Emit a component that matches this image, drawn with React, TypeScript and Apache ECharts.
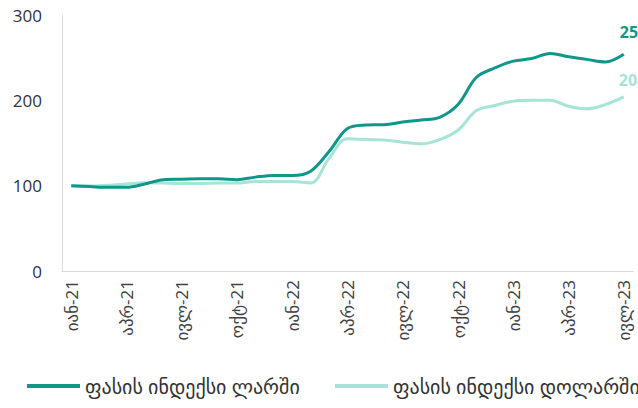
import React, { useEffect, useRef } from "react";
import * as echarts from "echarts";

const categories: string[] = [
  "იან-21", "თებ-21", "მარ-21", "აპრ-21", "მაი-21", "ივნ-21", "ივლ-21", "აგვ-21", "სექ-21", "ოქტ-21", "ნოე-21", "დეკ-21",
  "იან-22", "თებ-22", "მარ-22", "აპრ-22", "მაი-22", "ივნ-22", "ივლ-22", "აგვ-22", "სექ-22", "ოქტ-22", "ნოე-22", "დეკ-22",
  "იან-23", "თებ-23", "მარ-23", "აპრ-23", "მაი-23", "ივნ-23", "ივლ-23",
];

const gelIndex: number[] = [
  100, 99, 98, 98, 102, 107, 107.5, 108, 108, 107, 110, 112,
  112, 117, 140, 167, 171, 171.5, 174.5, 177, 180, 195, 227, 238,
  246, 249, 255, 251, 248, 245, 254,
];

const usdIndex: number[] = [
  100, 99.5, 100.5, 102, 103.5, 103, 102.5, 102.5, 103, 103, 105, 105,
  105, 103, 132, 155, 154, 153.5, 151, 149, 154, 165, 188, 194,
  199, 200, 200, 193, 190, 195, 204,
];

const seriesNames: string[] = ["ფასის ინდექსი ლარში", "ფასის ინდექსი დოლარში"];
const yTicks = { min: 0, max: 300, interval: 100 };

const DARK = "#0f978a";
const LIGHT = "#a5e4d7";
const FONT = "'Open Sans', 'DejaVu Sans', sans-serif";

function legendFor(name: string, left: number) {
  return {
    bottom: 7,
    left,
    itemWidth: 53,
    itemHeight: 4,
    itemGap: 6,
    icon: "rect",
    textStyle: { fontSize: 20, color: "#333333", fontFamily: FONT },
    data: [{ name }],
  };
}

export default function App() {
  const ref = useRef<HTMLDivElement>(null);
  useEffect(() => {
    document.body.style.margin = "0";
    const chart = echarts.init(ref.current!, null, { renderer: "svg" });
    chart.setOption({
      animation: false,
      backgroundColor: "#ffffff",
      grid: { left: 62, right: 5, top: 15, bottom: 137, containLabel: false },
      legend: [legendFor(seriesNames[0], 22), legendFor(seriesNames[1], 330)],
      xAxis: {
        type: "category",
        data: categories,
        boundaryGap: true,
        axisLine: { lineStyle: { color: "#d9d9d9", width: 1 } },
        axisTick: { show: false },
        axisLabel: {
          interval: 2,
          rotate: 90,
          color: "#404040",
          fontSize: 17,
          fontFamily: FONT,
          margin: 9,
        },
      },
      yAxis: {
        type: "value",
        min: yTicks.min,
        max: yTicks.max,
        interval: yTicks.interval,
        splitLine: { show: false },
        axisLine: { show: true, lineStyle: { color: "#d9d9d9", width: 1 } },
        axisTick: { show: false },
        axisLabel: { color: "#333333", fontSize: 17, fontFamily: FONT, margin: 20 },
      },
      series: [
        {
          name: seriesNames[0],
          type: "line",
          smooth: 0.35,
          symbol: "none",
          lineStyle: { color: DARK, width: 3 },
          itemStyle: { color: DARK },
          data: gelIndex,
          endLabel: {
            show: true,
            color: DARK,
            fontSize: 16,
            fontWeight: "bold",
            fontFamily: FONT,
            distance: 0,
            offset: [-4, -22],
            formatter: (p: any) => String(Math.round(p.value)),
          },
          z: 3,
        },
        {
          name: seriesNames[1],
          type: "line",
          smooth: 0.35,
          symbol: "none",
          lineStyle: { color: LIGHT, width: 3 },
          itemStyle: { color: LIGHT },
          data: usdIndex,
          endLabel: {
            show: true,
            color: LIGHT,
            fontSize: 16,
            fontWeight: "bold",
            fontFamily: FONT,
            distance: 0,
            offset: [-5, -17],
            formatter: (p: any) => String(Math.round(p.value)),
          },
          z: 2,
        },
      ],
    });
    return () => chart.dispose();
  }, []);
  return <div ref={ref} style={{ width: 638, height: 408 }} />;
}
